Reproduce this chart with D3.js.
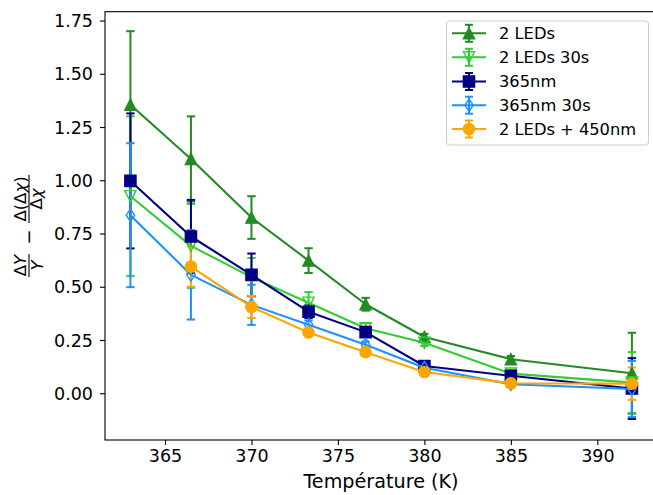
<!DOCTYPE html>
<html><head><meta charset="utf-8">
<script src="https://cdn.jsdelivr.net/npm/d3@7"></script>
<style>body{margin:0;background:#fff}svg{display:block;font-family:"DejaVu Sans",sans-serif}</style>
</head><body><svg id="c" width="653" height="495"></svg>
<script>
const temps = [363, 366.5, 370, 373.3, 376.6, 380, 385, 392];
const xTicks = [365, 370, 375, 380, 385, 390];
const yTicks = [0, 0.25, 0.5, 0.75, 1.0, 1.25, 1.5, 1.75];
const names = ["2 LEDs", "2 LEDs 30s", "365nm", "365nm 30s", "2 LEDs + 450nm"];
const colors = ["#228B22", "#32CD32", "#000080", "#1E90FF", "#FFA500"];
const markers = ["triUp", "triDown", "square", "diamond", "circle"];
const filled = [true, false, true, false, true];
const vLeds2     = [1.355, 1.10, 0.825, 0.623, 0.418, 0.264, 0.160, 0.094];
const eLeds2     = [0.345, 0.20, 0.10, 0.058, 0.03, 0.015, 0.015, 0.19];
const vLeds2_30  = [0.925, 0.692, 0.545, 0.425, 0.305, 0.237, 0.092, 0.05];
const eLeds2_30  = [0.375, 0.197, 0.09, 0.05, 0.025, 0.015, 0.015, 0.143];
const v365       = [0.997, 0.736, 0.556, 0.383, 0.287, 0.128, 0.082, 0.022];
const e365       = [0.317, 0.172, 0.10, 0.03, 0.02, 0.015, 0.015, 0.143];
const v365_30    = [0.836, 0.556, 0.415, 0.322, 0.228, 0.12, 0.042, 0.02];
const e365_30    = [0.338, 0.21, 0.094, 0.02, 0.015, 0.01, 0.015, 0.132];
const vLeds450   = [null, 0.595, 0.405, 0.285, 0.193, 0.10, 0.047, 0.045];
const eLeds450   = [null, 0.095, 0.052, 0.015, 0.012, 0.01, 0.01, 0.076];

const seriesVals = [vLeds2, vLeds2_30, v365, v365_30, vLeds450];
const seriesErrs = [eLeds2, eLeds2_30, e365, e365_30, eLeds450];

const svg = d3.select("#c");
const L = 105, R = 657, T = 11.7, B = 440;
const x = d3.scaleLinear().domain([361.53, 393.45]).range([L, R]);
const y = d3.scaleLinear().domain([-0.2195, 1.7915]).range([B, T]);

function markerPath(kind) {
  const h = 5.6;
  if (kind === "triUp") return `M0,${-h}L${-h},${h}L${h},${h}Z`;
  if (kind === "triDown") return `M0,${h}L${-h},${-h}L${h},${-h}Z`;
  if (kind === "square") return `M${-h},${-h}H${h}V${h}H${-h}Z`;
  if (kind === "diamond") return `M0,-6.2L4.2,0L0,6.2L-4.2,0Z`;
  return d3.arc()({innerRadius:0, outerRadius:h, startAngle:0, endAngle:2*Math.PI});
}

const plot = svg.append("g");
seriesVals.forEach((vals, si) => {
  const g = plot.append("g");
  vals.forEach((v, i) => {
    if (v === null) return;
    const e = seriesErrs[si][i];
    const cx = x(temps[i]);
    g.append("line").attr("x1", cx).attr("x2", cx).attr("y1", y(v - e)).attr("y2", y(v + e))
      .attr("stroke", colors[si]).attr("stroke-width", 2);
    [v - e, v + e].forEach(c => g.append("line").attr("x1", cx - 4.2).attr("x2", cx + 4.2)
      .attr("y1", y(c)).attr("y2", y(c)).attr("stroke", colors[si]).attr("stroke-width", 2));
  });
});
seriesVals.forEach((vals, si) => {
  const pts = temps.map((t, i) => [t, vals[i]]).filter(p => p[1] !== null);
  plot.append("path").attr("d", d3.line().x(p => x(p[0])).y(p => y(p[1]))(pts))
    .attr("fill", "none").attr("stroke", colors[si]).attr("stroke-width", 2.1)
    .attr("stroke-linejoin", "round");
  pts.forEach(p => {
    plot.append("path").attr("d", markerPath(markers[si]))
      .attr("transform", `translate(${x(p[0])},${y(p[1])})`)
      .attr("fill", filled[si] ? colors[si] : "none")
      .attr("stroke", colors[si]).attr("stroke-width", 1.4);
  });
});

// axes
const xAxis = svg.append("g").attr("transform", `translate(0,${B})`)
  .call(d3.axisBottom(x).tickValues(xTicks).tickFormat(d3.format("d")).tickSizeOuter(0).tickSize(5).tickPadding(5));
const yAxis = svg.append("g").attr("transform", `translate(${L},0)`)
  .call(d3.axisLeft(y).tickValues(yTicks).tickFormat(d3.format(".2f")).tickSizeOuter(0).tickSize(5).tickPadding(7));
[xAxis, yAxis].forEach(a => {
  a.selectAll("text").attr("font-size", 17.5).attr("fill", "#000").attr("font-family", "DejaVu Sans");
  a.selectAll("line").attr("stroke", "#000").attr("stroke-width", 1.1);
  a.select(".domain").remove();
});
yAxis.selectAll("text").attr("dy", "0.35em");
// spines
svg.append("rect").attr("x", L).attr("y", T).attr("width", R - L).attr("height", B - T)
  .attr("fill", "none").attr("stroke", "#000").attr("stroke-width", 1.1);

// x label
svg.append("text").attr("x", 381).attr("y", 488).attr("text-anchor", "middle")
  .attr("font-size", 19.2).text("Température (K)");

// y label (math fractions), rotated
const yl = svg.append("g").attr("transform", "translate(29,226) rotate(-90)").attr("font-size", 16.5);
yl.append("text").attr("x", -39.5).attr("y", -3).attr("text-anchor", "middle")
  .html('Δ<tspan font-style="italic">Y</tspan>');
yl.append("line").attr("x1", -51).attr("x2", -28).attr("y1", 0).attr("y2", 0).attr("stroke", "#000").attr("stroke-width", 1.1);
yl.append("text").attr("x", -39.5).attr("y", 14).attr("text-anchor", "middle")
  .html('<tspan font-style="italic">Y</tspan>');
yl.append("text").attr("x", -11).attr("y", 6).attr("text-anchor", "middle").attr("font-size", 18).text("−");
yl.append("text").attr("x", 27).attr("y", -3).attr("text-anchor", "middle")
  .html('Δ(Δ<tspan font-style="italic">χ</tspan>)');
yl.append("line").attr("x1", 3).attr("x2", 51).attr("y1", 0).attr("y2", 0).attr("stroke", "#000").attr("stroke-width", 1.1);
yl.append("text").attr("x", 27).attr("y", 13).attr("text-anchor", "middle")
  .html('Δ<tspan font-style="italic">χ</tspan>');

// legend
const lg = svg.append("g");
lg.append("rect").attr("x", 446.5).attr("y", 21).attr("width", 202).attr("height", 124).attr("rx", 3)
  .attr("fill", "#fff").attr("fill-opacity", 0.8).attr("stroke", "#ccc").attr("stroke-width", 1);
const rowY = [33.3, 57.3, 81.5, 105.2, 129];
names.forEach((n, i) => {
  const gy = rowY[i], c = colors[i];
  lg.append("line").attr("x1", 452).attr("x2", 486).attr("y1", gy).attr("y2", gy).attr("stroke", c).attr("stroke-width", 2.1);
  lg.append("line").attr("x1", 469).attr("x2", 469).attr("y1", gy - 8.5).attr("y2", gy + 8.5).attr("stroke", c).attr("stroke-width", 2);
  [gy - 8.5, gy + 8.5].forEach(cy => lg.append("line").attr("x1", 465).attr("x2", 473).attr("y1", cy).attr("y2", cy).attr("stroke", c).attr("stroke-width", 2));
  lg.append("path").attr("d", markerPath(markers[i])).attr("transform", `translate(469,${gy})`)
    .attr("fill", filled[i] ? c : "none").attr("stroke", c).attr("stroke-width", 1.4);
  lg.append("text").attr("x", 499).attr("y", gy + 5.8).attr("font-size", 16.3).text(n);
});
</script></body></html>
